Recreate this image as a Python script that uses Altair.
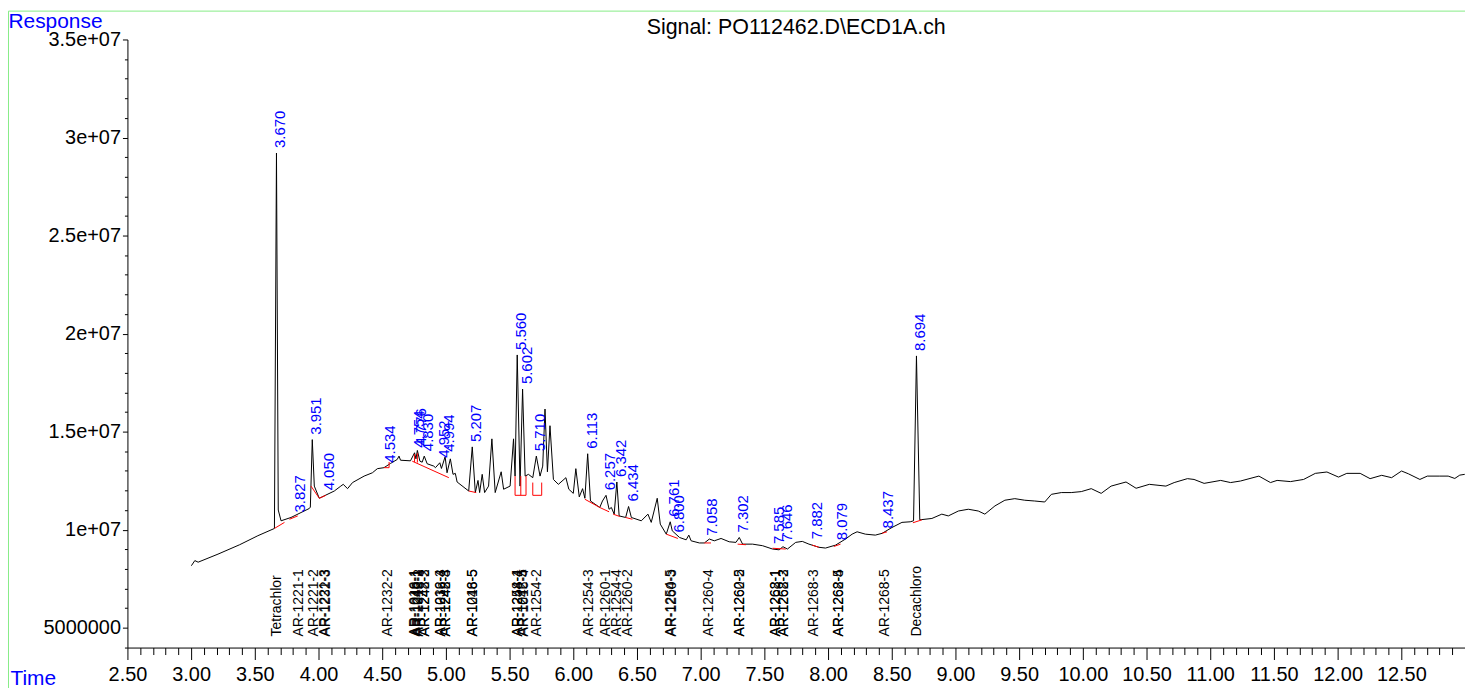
import altair as alt
import pandas as pd

FONT = "Liberation Sans"
BLUE = "#0000ff"
M = 1e6  # responses below are in millions

TITLE = "Signal: PO112462.D\\ECD1A.ch"

# ---- chromatogram trace (time [min], response [millions]) ----
trace_points = [
    (3.002, 8.16), (3.029, 8.42), (3.055, 8.34), (3.211, 8.75), (3.381, 9.23), (3.524, 9.69), (3.654, 10.06),
    (3.670, 29.21), (3.684, 11.0), (3.706, 10.45), (3.784, 10.62), (3.928, 11.08),
    (3.936, 11.15), (3.951, 14.59), (3.967, 12.22), (4.006, 11.60), (4.124, 11.97), (4.175, 12.22), (4.194, 12.31),
    (4.228, 12.09), (4.267, 12.40), (4.358, 12.73), (4.423, 12.90), (4.462, 13.11), (4.514, 13.16), (4.566, 13.38),
    (4.618, 13.58), (4.632, 13.75), (4.644, 13.54), (4.722, 13.51), (4.754, 13.92), (4.765, 13.61), (4.776, 14.04),
    (4.796, 13.49), (4.814, 13.44), (4.830, 13.75), (4.853, 13.36), (4.905, 13.24), (4.918, 13.16), (4.952, 13.41),
    (4.965, 13.12), (4.994, 13.72), (5.009, 12.90), (5.035, 13.61), (5.056, 12.82), (5.074, 12.87), (5.088, 12.43),
    (5.179, 11.97), (5.207, 14.22), (5.231, 11.89), (5.252, 12.51), (5.265, 11.89), (5.285, 12.82), (5.304, 11.89),
    (5.335, 12.22), (5.361, 14.63), (5.387, 11.89), (5.434, 12.95), (5.453, 12.06), (5.504, 12.22), (5.531, 14.63),
    (5.543, 12.73), (5.560, 18.91), (5.582, 12.22), (5.602, 17.17), (5.622, 12.73), (5.648, 12.82), (5.682, 12.65),
    (5.710, 13.75), (5.739, 12.73), (5.760, 13.24), (5.778, 16.15), (5.797, 12.95), (5.817, 15.30), (5.844, 12.56),
    (5.883, 12.31), (5.942, 12.65), (5.965, 12.06), (6.000, 11.85), (6.020, 13.11), (6.047, 11.67), (6.073, 12.09),
    (6.091, 11.60), (6.113, 13.87), (6.135, 11.46), (6.208, 11.13), (6.229, 11.46), (6.257, 11.75), (6.281, 11.04),
    (6.299, 11.13), (6.321, 10.79), (6.342, 12.43), (6.360, 10.70), (6.411, 10.62), (6.434, 11.18), (6.456, 10.62),
    (6.534, 10.45), (6.586, 10.79), (6.612, 10.37), (6.659, 11.60), (6.683, 10.28), (6.730, 9.77), (6.761, 10.40),
    (6.777, 9.94), (6.834, 9.60), (6.886, 9.48), (6.907, 9.72), (6.925, 9.43), (6.990, 9.32), (7.029, 9.32),
    (7.068, 9.52), (7.107, 9.43), (7.160, 9.55), (7.224, 9.38), (7.277, 9.35), (7.303, 9.60), (7.329, 9.26),
    (7.407, 9.26), (7.486, 9.18), (7.564, 9.01), (7.616, 8.97), (7.646, 9.13), (7.681, 9.01), (7.746, 9.35),
    (7.798, 9.40), (7.850, 9.26), (7.928, 9.10), (7.980, 9.06), (8.059, 9.21), (8.137, 9.52), (8.189, 9.77),
    (8.228, 9.89), (8.293, 9.77), (8.371, 9.72), (8.424, 9.81), (8.502, 10.11), (8.580, 10.37), (8.645, 10.40),
    (8.671, 10.45), (8.694, 18.86), (8.720, 10.50), (8.815, 10.57), (8.893, 10.79), (8.944, 10.70), (9.023, 10.95),
    (9.101, 11.04), (9.179, 10.95), (9.231, 10.79), (9.310, 11.21), (9.388, 11.50), (9.466, 11.58), (9.544, 11.50),
    (9.622, 11.46), (9.701, 11.41), (9.753, 11.80), (9.831, 11.89), (9.909, 11.89), (9.988, 11.94), (10.066, 12.09),
    (10.144, 11.85), (10.222, 12.22), (10.339, 12.43), (10.418, 12.11), (10.522, 12.31), (10.652, 12.22),
    (10.717, 12.40), (10.821, 12.60), (10.873, 12.56), (10.952, 12.36), (11.082, 12.51), (11.160, 12.40),
    (11.238, 12.48), (11.382, 12.73), (11.473, 12.40), (11.525, 12.51), (11.630, 12.45), (11.733, 12.56),
    (11.825, 12.87), (11.916, 12.94), (12.007, 12.68), (12.072, 12.87), (12.177, 12.87), (12.255, 12.60),
    (12.346, 12.77), (12.424, 12.65), (12.502, 12.99), (12.555, 12.85), (12.646, 12.56), (12.704, 12.73),
    (12.802, 12.73), (12.868, 12.73), (12.920, 12.61), (12.959, 12.78), (12.998, 12.82),
]

# ---- integration baselines (red) : segment id, time, response [millions] ----
baseline_points = [
    (1, 3.654, 10.06), (1, 3.733, 10.37),
    (2, 3.772, 10.53), (2, 3.837, 10.70),
    (3, 3.941, 12.22), (3, 4.006, 11.60), (3, 4.058, 11.75),
    (4, 4.514, 13.16), (4, 4.554, 13.16), (4, 4.554, 13.45),
    (5, 4.736, 13.49), (5, 5.023, 12.65),
    (6, 4.754, 13.45), (6, 4.754, 13.85),
    (7, 4.776, 13.42), (7, 4.776, 13.90),
    (8, 5.179, 11.97), (8, 5.238, 11.89),
    (9, 5.543, 12.73), (9, 5.543, 11.75), (9, 5.629, 11.75), (9, 5.629, 12.73),
    (10, 5.588, 11.75), (10, 5.588, 12.73),
    (11, 5.682, 12.40), (11, 5.682, 11.75), (11, 5.752, 11.75), (11, 5.752, 12.40),
    (12, 6.091, 11.55), (12, 6.208, 11.13), (12, 6.281, 10.91),
    (13, 6.313, 10.79), (13, 6.365, 10.67),
    (14, 6.411, 10.62), (14, 6.464, 10.53),
    (15, 6.730, 9.77), (15, 6.821, 9.55),
    (16, 7.029, 9.32), (16, 7.081, 9.32),
    (17, 7.290, 9.26), (17, 7.355, 9.23),
    (18, 7.564, 9.05), (18, 7.668, 9.01),
    (19, 7.876, 9.21), (19, 7.928, 9.10),
    (20, 8.045, 9.14), (20, 8.098, 9.26),
    (21, 8.424, 9.81), (21, 8.463, 9.89),
    (22, 8.666, 10.35), (22, 8.737, 10.50),
]

# ---- peak retention-time labels (blue) ----
peak_labels = ["3.670", "3.827", "3.951", "4.050", "4.534", "4.754", "4.776", "4.830", "4.952", "4.994",
               "5.207", "5.560", "5.602", "5.710", "6.113", "6.257", "6.342", "6.434", "6.761", "6.800",
               "7.058", "7.302", "7.585", "7.646", "7.882", "8.079", "8.437", "8.694"]
peak_heights = [29.21, 10.62, 14.59, 11.75, 13.16, 13.92, 14.04, 13.75, 13.41, 13.72,
                14.22, 18.91, 17.17, 13.75, 13.87, 11.75, 12.43, 11.18, 10.40, 9.60,
                9.43, 9.60, 9.01, 9.13, 9.26, 9.21, 9.81, 18.86]

# ---- compound (expected peak) labels (black) ----
compound_names = ["Tetrachlor", "AR-1221-1", "AR-1221-2", "AR-1221-3", "AR-1232-3", "AR-1232-2",
                  "AR-1016-1", "AR-1248-1", "AR-1242-1", "AR-1016-2", "AR-1248-2", "AR-1242-3",
                  "AR-1016-3", "AR-1232-4", "AR-1242-4", "AR-1248-3", "AR-1016-5", "AR-1248-5",
                  "AR-1254-1", "AR-1248-4", "AR-1242-5", "AR-1016-4", "AR-1254-2", "AR-1254-3",
                  "AR-1260-1", "AR-1254-4", "AR-1260-2", "AR-1254-5", "AR-1260-3", "AR-1260-4",
                  "AR-1260-5", "AR-1262-2", "AR-1262-1", "AR-1268-1", "AR-1262-3", "AR-1268-2",
                  "AR-1268-3", "AR-1262-5", "AR-1268-4", "AR-1268-5", "Decachloro"]
compound_rt = [3.670, 3.840, 3.955, 4.045, 4.055, 4.534,
               4.752, 4.756, 4.774, 4.778, 4.828, 4.832,
               4.950, 4.954, 4.992, 4.996, 5.205, 5.209,
               5.558, 5.562, 5.600, 5.604, 5.710, 6.113,
               6.250, 6.335, 6.425, 6.757, 6.765, 7.058,
               7.300, 7.304, 7.583, 7.587, 7.644, 7.648,
               7.882, 8.077, 8.081, 8.437, 8.694]
compound_label_level = 4.55  # millions, bottom of the label column

x_major_labels = ["2.50", "3.00", "3.50", "4.00", "4.50", "5.00", "5.50", "6.00", "6.50", "7.00", "7.50",
                  "8.00", "8.50", "9.00", "9.50", "10.00", "10.50", "11.00", "11.50", "12.00", "12.50"]
y_major_values = [5e6, 1e7, 1.5e7, 2e7, 2.5e7, 3e7, 3.5e7]
y_major_labels = ["5000000", "1e+07", "1.5e+07", "2e+07", "2.5e+07", "3e+07", "3.5e+07"]

X_DOMAIN = [2.5, 13.0]
Y_DOMAIN = [3.985e6, 3.5e7]

# ---- tables ----
trace_df = pd.DataFrame({
    "time": [p[0] for p in trace_points],
    "resp": [p[1] * M for p in trace_points],
    "order": list(range(len(trace_points))),
})
base_df = pd.DataFrame({
    "seg": [p[0] for p in baseline_points],
    "time": [p[1] for p in baseline_points],
    "resp": [p[2] * M for p in baseline_points],
    "order": list(range(len(baseline_points))),
})
peak_df = pd.DataFrame({"label": peak_labels,
                        "time": [float(s) for s in peak_labels],
                        "resp": [h * M for h in peak_heights]})
comp_df = pd.DataFrame({"name": compound_names, "time": compound_rt,
                        "resp": [compound_label_level * M] * len(compound_rt)})

xs = alt.Scale(domain=X_DOMAIN, nice=False, zero=False)
ys = alt.Scale(domain=Y_DOMAIN, nice=False, zero=False)

x_minor = [round(2.5 + 0.1 * i, 1) for i in range(105)]
y_minor = list(range(4_000_000, 35_000_001, 1_000_000))

x_major_test = "abs(datum.value*2 - round(datum.value*2)) < 0.001"
x_label_expr = ("indexof(" + str(x_major_labels).replace('"', "'") +
                ", format(datum.value, '.2f')) >= 0 ? format(datum.value, '.2f') : ''")

y_label_expr = ""
for v, lab in zip(y_major_values, y_major_labels):
    y_label_expr += f"abs(datum.value - {int(v)}) < 1 ? '{lab}' : "
y_label_expr += "''"

x_axis = alt.Axis(
    values=x_minor, labelExpr=x_label_expr, title="Time",
    tickSize={"condition": {"test": x_major_test, "value": 12}, "value": 7},
    labelPadding=5, labelFlush=False, labelOverlap=False, grid=False,
    labelFont=FONT, labelFontSize=20, labelColor="black",
    domainColor="black", tickColor="black", domainWidth=1, tickWidth=1,
    titleFont=FONT, titleFontSize=21, titleFontWeight="normal", titleColor=BLUE,
    titleAlign="left", titleAnchor="start", titleBaseline="top", titleX=-118, titleY=20,
)
y_axis = alt.Axis(
    values=y_minor, labelExpr=y_label_expr, title="Response",
    tickSize={"condition": {"test": "datum.value % 5000000 == 0", "value": 5}, "value": 3},
    labelPadding=2, labelFlush=False, labelOverlap=False, grid=False,
    labelFont=FONT, labelFontSize=20, labelColor="black",
    domainColor="black", tickColor="black", domainWidth=1, tickWidth=1,
    titleFont=FONT, titleFontSize=21, titleFontWeight="normal", titleColor=BLUE,
    titleAngle=0, titleAlign="left", titleAnchor="start", titleBaseline="top", titleX=-120, titleY=-29,
)

X = alt.X("time:Q", scale=xs, axis=x_axis)
Y = alt.Y("resp:Q", scale=ys, axis=y_axis)

trace = alt.Chart(trace_df).mark_line(color="black", strokeWidth=1).encode(
    x=X, y=Y, order="order:Q",
)

baselines = alt.Chart(base_df).mark_line(color="red", strokeWidth=1).encode(
    x=X, y=Y, detail="seg:N", order="order:Q",
)

peaks = alt.Chart(peak_df).mark_text(
    angle=270, align="left", baseline="middle", dx=5, dy=4,
    font=FONT, fontSize=15, color=BLUE,
).encode(x=X, y=Y, text="label:N")

compounds = alt.Chart(comp_df).mark_text(
    angle=270, align="left", baseline="middle", dx=0, dy=1,
    font=FONT, fontSize=14, color="black",
).encode(x=X, y=Y, text="name:N")

title_df = pd.DataFrame({"t": [TITLE]})
title_mark = alt.Chart(title_df).mark_text(
    align="center", baseline="alphabetic", font=FONT, fontSize=21.5, color="black",
).encode(text="t:N", x=alt.value(672), y=alt.value(-6))

frame_df = pd.DataFrame({"k": [0]})
frame_top = alt.Chart(frame_df).mark_rule(color="#86ec86", strokeWidth=1).encode(
    x=alt.value(-119.5), x2=alt.value(1345), y=alt.value(-28.5))
frame_left = alt.Chart(frame_df).mark_rule(color="#86ec86", strokeWidth=1).encode(
    x=alt.value(-119.5), y=alt.value(-28.5), y2=alt.value(660))

chart = alt.layer(trace, baselines, peaks, compounds, title_mark, frame_top, frame_left).properties(
    width=1344, height=611,
    padding={"left": 120, "top": 30, "right": 0, "bottom": 39},
    autosize=alt.AutoSizeParams(type="none"),
).configure_view(stroke=None)

chart.save("out.html", embed_options={"renderer": "svg", "actions": False})
